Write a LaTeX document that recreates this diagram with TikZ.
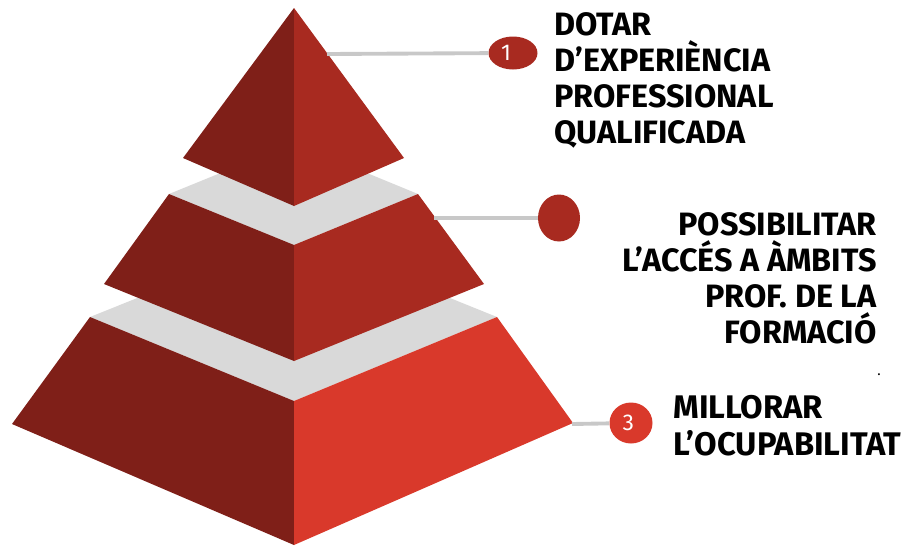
\documentclass[tikz,border=0pt]{standalone}
\usepackage{fontspec}
\setmainfont{Fira Sans}
\usetikzlibrary{shapes.geometric}
\definecolor{darkface}{HTML}{7F1F18}
\definecolor{midface}{HTML}{A82A20}
\definecolor{lightface}{HTML}{D9392B}
\definecolor{topgray}{HTML}{D9D9D9}
\definecolor{linegray}{HTML}{C8C8C8}
\begin{document}
\begin{tikzpicture}[x=0.02cm,y=-0.02cm,
  badge/.style={ellipse,inner sep=0pt,text=white,font=\fontsize{13}{15}\selectfont},
  goal/.style={inner sep=0pt,font=\fontsize{18.4}{20.4}\selectfont\bfseries},
  link/.style={linegray,line width=2.2pt}]
\useasboundingbox (0,0) rectangle (903,545);
% bottom level
\fill[topgray] (90,317) -- (294,235) -- (497,317) -- (294,401) -- cycle;
\fill[darkface] (90,317) -- (294,401) -- (294,545) -- (12,424) -- cycle;
\fill[lightface] (294,401) -- (497,317) -- (573,423) -- (294,545) -- cycle;
% middle level
\fill[topgray] (169,194) -- (294,143) -- (418,194) -- (294,245) -- cycle;
\fill[darkface] (169,194) -- (294,245) -- (294,361) -- (104,284) -- cycle;
\fill[midface] (294,245) -- (418,194) -- (484,284) -- (294,361) -- cycle;
% top level
\fill[darkface] (294,8) -- (183,158) -- (294,206) -- cycle;
\fill[midface] (294,8) -- (294,206) -- (404,158) -- cycle;
% badges
\coordinate (p1) at (327,54);
\coordinate (p2) at (434,218);
\coordinate (p3) at (572,424);
\node[badge,fill=midface,minimum width=0.98cm,minimum height=0.66cm] (c1) at (513,53) {\hspace{-8pt}1};
\node[badge,fill=midface,minimum width=0.84cm,minimum height=0.94cm] (c2) at (559,218) {};
\node[badge,fill=lightface,minimum width=0.86cm,minimum height=0.82cm] (c3) at (631,423) {\hspace{-3pt}3};
\draw[link] (p1) -- (c1);
\draw[link] (p2) -- (c2);
\draw[link] (p3) -- (c3);
% goals
\node[goal,anchor=base west,align=left] (g1) at (554,143) {DOTAR\\D’EXPERIÈNCIA\\PROFESSIONAL\\QUALIFICADA};
\node[goal,anchor=base east,align=right] (g2) at (877,343) {POSSIBILITAR\\L’ACCÉS A ÀMBITS\\PROF. DE LA\\FORMACIÓ};
\node[goal,anchor=base west,align=left,font=\fontsize{18.6}{21}\selectfont\bfseries] (g3) at (673,455) {MILLORAR\\L’OCUPABILITAT};
\node[inner sep=0pt,anchor=base,font=\fontsize{8}{10}\selectfont] (dot) at (879,375) {.};
\end{tikzpicture}
\end{document}
